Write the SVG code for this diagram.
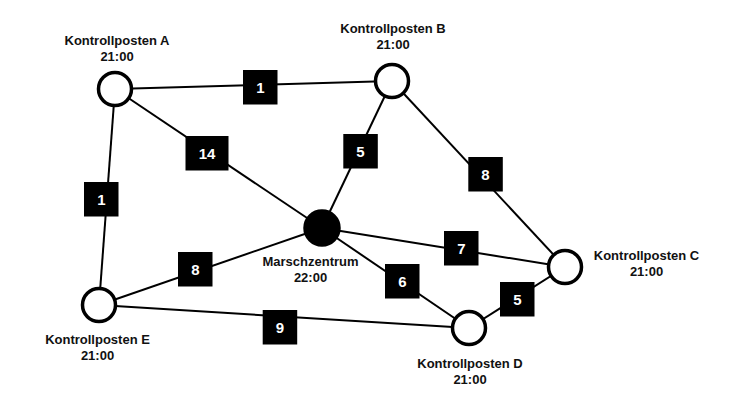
<svg xmlns="http://www.w3.org/2000/svg" width="736" height="413" viewBox="0 0 736 413">
<style>
.edge{stroke:#000;stroke-width:2;fill:none}
.node{fill:#fff;stroke:#000;stroke-width:3.5}
.hub{fill:#000;stroke:#000;stroke-width:3.5}
.lbl{font-family:"Liberation Sans",Arial,sans-serif;font-weight:bold;font-size:13px;fill:#111;text-anchor:middle}
.wbox{fill:#000}
.wt{font-family:"Liberation Sans",Arial,sans-serif;font-weight:bold;font-size:15px;fill:#fff;text-anchor:middle}
</style>
<rect width="736" height="413" fill="#fff"/>
<g id="connectors">
<line class="edge" x1="115" y1="89" x2="392" y2="81"/>
<line class="edge" x1="115" y1="89" x2="322" y2="228"/>
<line class="edge" x1="115" y1="89" x2="99" y2="305"/>
<line class="edge" x1="392" y1="81" x2="322" y2="228"/>
<line class="edge" x1="392" y1="81" x2="565" y2="267"/>
<line class="edge" x1="322" y1="228" x2="565" y2="267"/>
<line class="edge" x1="322" y1="228" x2="469" y2="328"/>
<line class="edge" x1="322" y1="228" x2="99" y2="305"/>
<line class="edge" x1="565" y1="267" x2="469" y2="328"/>
<line class="edge" x1="99" y1="305" x2="469" y2="328"/>
</g>
<g id="edge-labels">
<g id="w-AB"><rect class="wbox" x="243" y="70" width="34.5" height="34.5"/><text class="wt" x="260.3" y="92.5">1</text></g>
<g id="w-AM"><rect class="wbox" x="185.5" y="136" width="43" height="34.5"/><text class="wt" x="207" y="158.5">14</text></g>
<g id="w-AE"><rect class="wbox" x="84" y="182" width="34.5" height="34.5"/><text class="wt" x="101.3" y="204.5">1</text></g>
<g id="w-BM"><rect class="wbox" x="343.3" y="134" width="34.5" height="34.5"/><text class="wt" x="360.5" y="156.5">5</text></g>
<g id="w-BC"><rect class="wbox" x="468.3" y="157" width="34.5" height="34.5"/><text class="wt" x="485.5" y="179.5">8</text></g>
<g id="w-MC"><rect class="wbox" x="444" y="231" width="34.5" height="34.5"/><text class="wt" x="461.3" y="253.5">7</text></g>
<g id="w-MD"><rect class="wbox" x="385" y="264" width="34.5" height="34.5"/><text class="wt" x="402.3" y="286.5">6</text></g>
<g id="w-EM"><rect class="wbox" x="178" y="252" width="34.5" height="34.5"/><text class="wt" x="195.3" y="274.5">8</text></g>
<g id="w-CD"><rect class="wbox" x="500" y="282" width="34.5" height="34.5"/><text class="wt" x="517.3" y="304.5">5</text></g>
<g id="w-ED"><rect class="wbox" x="262.7" y="310" width="34.5" height="34.5"/><text class="wt" x="280" y="332.5">9</text></g>
</g>
<g id="node-A"><circle class="node" cx="115" cy="89" r="16.5"/><text class="lbl" x="117" y="45">Kontrollposten A</text><text class="lbl" x="117" y="61">21:00</text></g>
<g id="node-B"><circle class="node" cx="392" cy="81" r="16.5"/><text class="lbl" x="393" y="33">Kontrollposten B</text><text class="lbl" x="393" y="49">21:00</text></g>
<g id="node-M"><circle class="hub" cx="322" cy="228" r="17"/><text class="lbl" x="310.5" y="265.5">Marschzentrum</text><text class="lbl" x="310.5" y="281.5">22:00</text></g>
<g id="node-C"><circle class="node" cx="565" cy="267" r="16.5"/><text class="lbl" x="646.5" y="260">Kontrollposten C</text><text class="lbl" x="646.5" y="276">21:00</text></g>
<g id="node-D"><circle class="node" cx="469" cy="328" r="16.5"/><text class="lbl" x="470" y="367.5">Kontrollposten D</text><text class="lbl" x="470" y="383.5">21:00</text></g>
<g id="node-E"><circle class="node" cx="99" cy="305" r="16.5"/><text class="lbl" x="97.5" y="343.5">Kontrollposten E</text><text class="lbl" x="97.5" y="359.5">21:00</text></g>
</svg>
